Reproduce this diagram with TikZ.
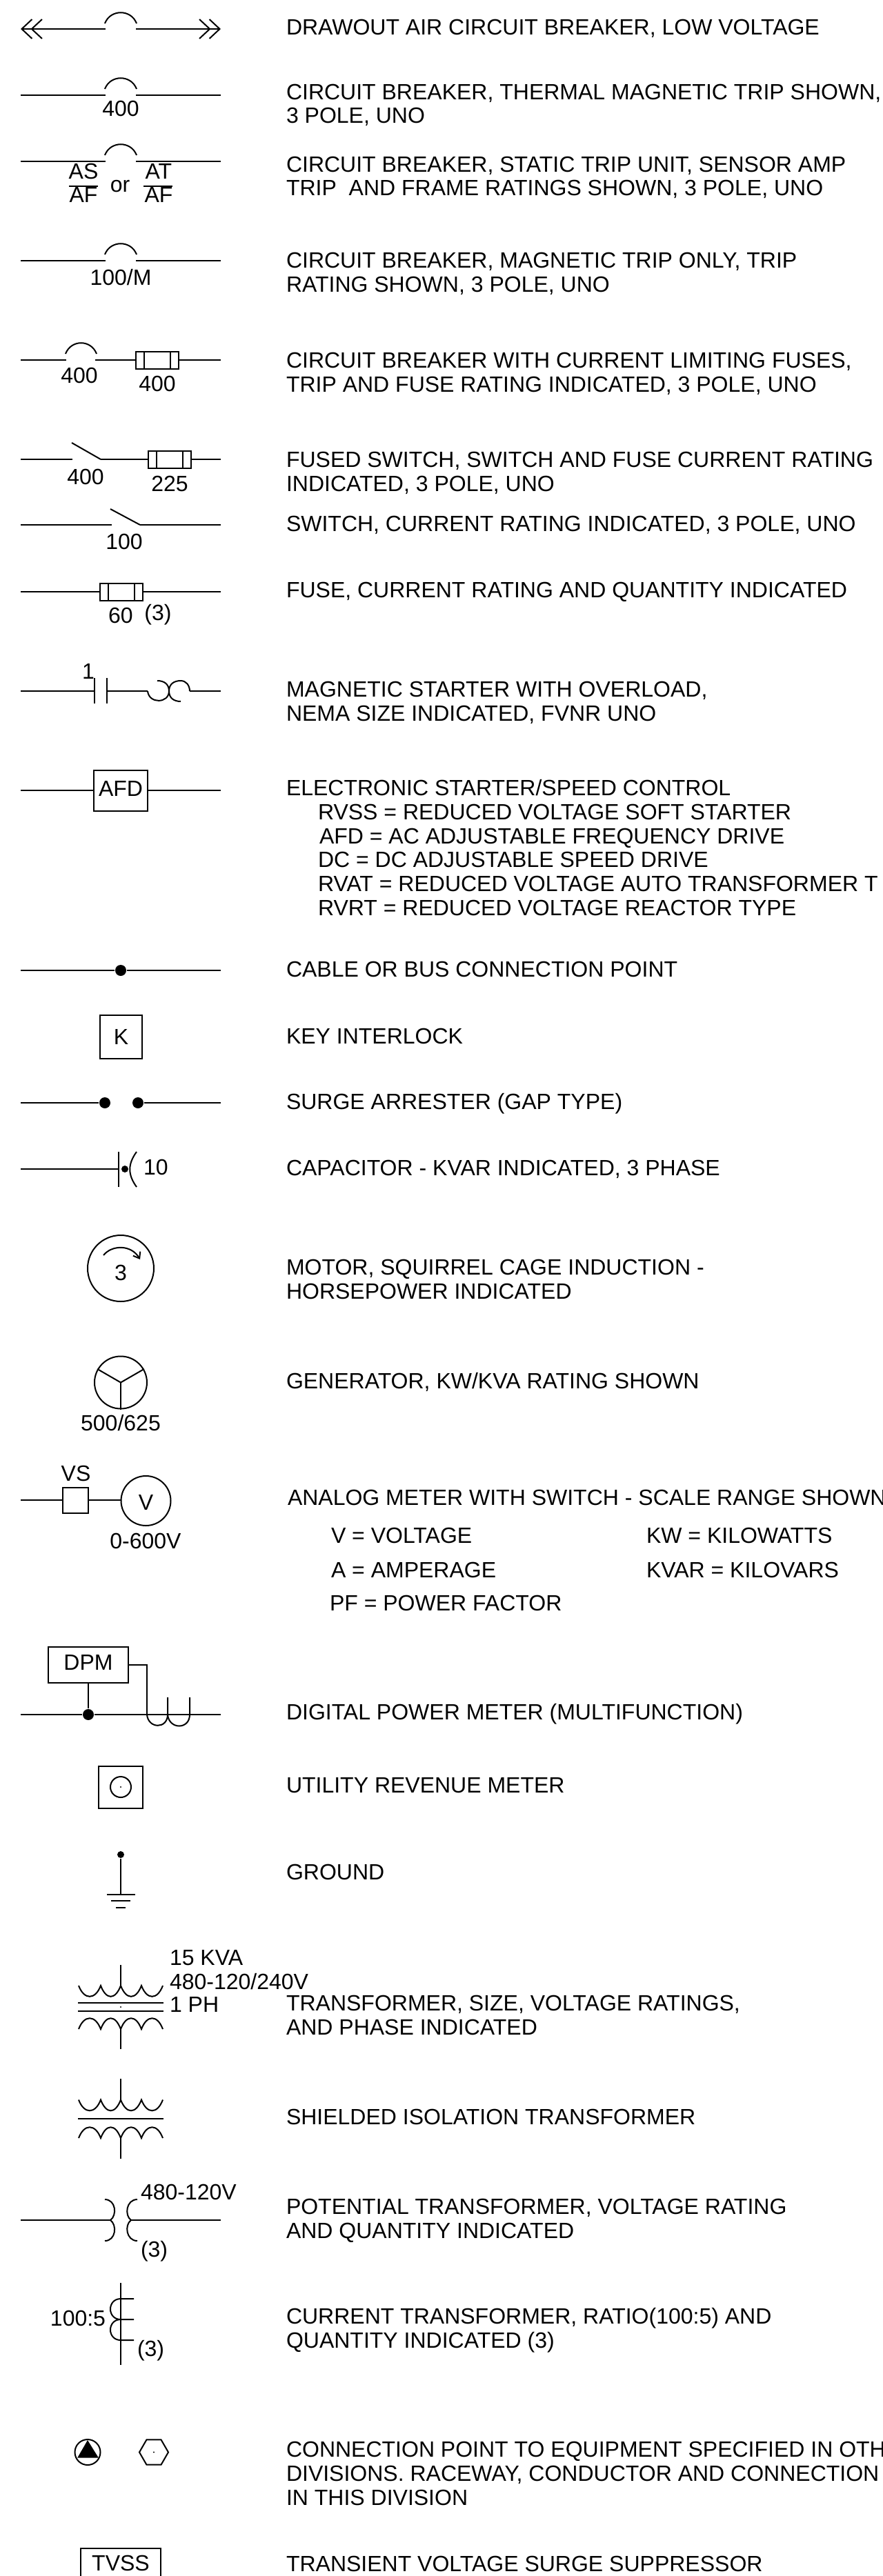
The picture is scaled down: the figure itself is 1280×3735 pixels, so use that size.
\documentclass[tikz,border=0pt]{standalone}
\usepackage{fontspec}
\setmainfont{Liberation Sans}
\usetikzlibrary{arrows.meta,shapes.geometric}
\tikzset{barbs/.tip={Straight Barb[length=11.25pt,width=21pt,sep=-2.25pt] Straight Barb[length=11.25pt,width=21pt]}}

\begin{document}
\begin{tikzpicture}[x=0.75pt,y=-0.75pt,line width=1.5pt,
   every node/.style={font=\fontsize{24pt}{26pt}\selectfont},
   lbl/.style={inner sep=0pt,anchor=base},
   desc/.style={inner sep=0pt,anchor=base west,align=left},
   boxed/.style={draw,rectangle,inner sep=0pt},
   ring/.style={draw,circle,inner sep=0pt},
   dot/.style={fill,circle,inner sep=0pt,minimum size=12pt},
   speck/.style={fill,circle,inner sep=0pt,minimum size=1.6pt},
   fuse/.style={boxed,minimum width=46.5pt,minimum height=18.75pt,path picture={
      \draw ([xshift=9pt]path picture bounding box.north west) -- ([xshift=9pt]path picture bounding box.south west);
      \draw ([xshift=-9pt]path picture bounding box.north east) -- ([xshift=-9pt]path picture bounding box.south east);}},
   arcup/.style={to path={.. controls +(8,-21) and +(-8,-21) .. (\tikztotarget)}},
   arcdn/.style={to path={.. controls +(8,21) and +(-8,21) .. (\tikztotarget)}}]
   \path[use as bounding box,clip] (0,0) rectangle (1280,3735);

   % Breakers
   \coordinate (w1_0) at (30,42);
   \coordinate (w1_1) at (153,42);
   \coordinate (w1_2) at (197,42);
   \coordinate (w1_3) at (320,42);
   \path[draw,{barbs}-] (w1_0) to (w1_1);
   \path[draw,-{barbs}] (w1_2) to (w1_3);
   \path[draw] (152,34) to[arcup] (198,34);

   \coordinate (w2_0) at (30,138);
   \coordinate (w2_1) at (153,138);
   \coordinate (w2_2) at (197,138);
   \coordinate (w2_3) at (320,138);
   \path[draw] (w2_0) to (w2_1);
   \path[draw] (w2_2) to (w2_3);
   \path[draw] (152,129) to[arcup] (198,129);
   \node[lbl] (n2) at (175,169) {400};

   \coordinate (w3_0) at (30,234);
   \coordinate (w3_1) at (153,234);
   \coordinate (w3_2) at (197,234);
   \coordinate (w3_3) at (320,234);
   \path[draw] (w3_0) to (w3_1);
   \path[draw] (w3_2) to (w3_3);
   \path[draw] (152,225) to[arcup] (198,225);
   \node[lbl] (as) at (121,260) {AS};
   \node[lbl] (af1) at (121,294) {AF};
   \node[lbl] (or) at (174,279) {or};
   \node[lbl] (at) at (230,260) {AT};
   \node[lbl] (af2) at (230,294) {AF};
   \coordinate (b3_0) at (100,270);
   \coordinate (b3_1) at (142,270);
   \coordinate (b3_2) at (208,270);
   \coordinate (b3_3) at (250,270);
   \path[draw] (b3_0) to (b3_1);
   \path[draw] (b3_2) to (b3_3);

   \coordinate (w4_0) at (30,378);
   \coordinate (w4_1) at (153,378);
   \coordinate (w4_2) at (197,378);
   \coordinate (w4_3) at (320,378);
   \path[draw] (w4_0) to (w4_1);
   \path[draw] (w4_2) to (w4_3);
   \path[draw] (152,369) to[arcup] (198,369);
   \node[lbl] (n4) at (175,414) {100/M};

   \coordinate (w5_0) at (30,522);
   \coordinate (w5_1) at (96,522);
   \coordinate (w5_2) at (138,522);
   \coordinate (w5_3) at (320,522);
   \node[fuse] (f5) at (228,522) {};
   \path[draw] (w5_0) to (w5_1);
   \path[draw] (w5_2) to (f5);
   \path[draw] (f5) to (w5_3);
   \path[draw] (95,513) to[arcup] (140,513);
   \node[lbl] (n5_0) at (115,555) {400};
   \node[lbl] (n5_1) at (228,567) {400};

   % Switches and fuses
   \coordinate (w6_0) at (30,666);
   \coordinate (w6_1) at (105,666);
   \coordinate (w6_2) at (146,666);
   \coordinate (w6_3) at (104,642);
   \coordinate (w6_4) at (320,666);
   \node[fuse] (f6) at (245.5,666) {};
   \path[draw] (w6_0) to (w6_1);
   \path[draw] (w6_3) to (w6_2);
   \path[draw] (w6_2) to (f6);
   \path[draw] (f6) to (w6_4);
   \node[lbl] (n6_0) at (124,702) {400};
   \node[lbl] (n6_1) at (246,712) {225};

   \coordinate (w7_0) at (30,761);
   \coordinate (w7_1) at (162,761);
   \coordinate (w7_2) at (203,761);
   \coordinate (w7_3) at (160,738);
   \coordinate (w7_4) at (320,761);
   \path[draw] (w7_0) to (w7_1);
   \path[draw] (w7_3) to (w7_2);
   \path[draw] (w7_2) to (w7_4);
   \node[lbl] (n7) at (180,796) {100};

   \coordinate (w8_0) at (30,858);
   \coordinate (w8_1) at (320,858);
   \node[fuse] (f8) at (175.5,858) {};
   \path[draw] (w8_0) to (f8);
   \path[draw] (f8) to (w8_1);
   \node[lbl] (n8_0) at (175,903) {60};
   \node[lbl] (n8_1) at (229,899) {(3)};

   % Starter
   \coordinate (w9_0) at (30,1002);
   \coordinate (w9_1) at (137,1002);
   \coordinate (w9_2) at (155,1002);
   \coordinate (w9_3) at (214,1002);
   \coordinate (w9_4) at (275,1002);
   \coordinate (w9_5) at (320,1002);
   \path[draw] (w9_0) to (w9_1);
   \path[draw] (w9_2) to (w9_3);
   \path[draw] (w9_4) to (w9_5);
   \path[draw] (137,983) to (137,1020);
   \path[draw] (155,983) to (155,1020);
   \path[draw] (w9_3) .. controls (216,1021) and (245,1020) .. (245,1002) .. controls (245,992) and (238,987) .. (228,987);
   \path[draw] (262,1017) .. controls (252,1017) and (245,1012) .. (245,1002) .. controls (245,992) and (252,987) .. (262,987) .. controls (270,987) and (275,994) .. (w9_4);
   \node[lbl] (n9) at (128,984) {1};

   \coordinate (w10_0) at (30,1146);
   \coordinate (w10_1) at (320,1146);
   \node[boxed,minimum width=58.5pt,minimum height=44.25pt,text height=17.2pt,text depth=4.4pt] (afd) at (175,1146) {AFD};
   \path[draw] (w10_0) to (afd);
   \path[draw] (afd) to (w10_1);

   % Connection point, key, arrester, capacitor
   \coordinate (w11_0) at (30,1407);
   \coordinate (w11_1) at (320,1407);
   \node[dot] (d11) at (175,1407) {};
   \path[draw] (w11_0) to (d11);
   \path[draw] (d11) to (w11_1);

   \node[boxed,minimum width=45.75pt,minimum height=47.25pt] (key) at (175.5,1503.5) {K};

   \coordinate (w13_0) at (30,1599);
   \coordinate (w13_1) at (320,1599);
   \node[dot] (d13_0) at (152,1599) {};
   \node[dot] (d13_1) at (200,1599) {};
   \path[draw] (w13_0) to (d13_0);
   \path[draw] (d13_1) to (w13_1);

   \coordinate (w14_0) at (30,1695);
   \coordinate (w14_1) at (172,1695);
   \path[draw] (w14_0) to (w14_1);
   \path[draw] (172,1670) to (172,1721);
   \node[fill,circle,inner sep=0pt,minimum size=7.5pt] (d14) at (181,1695) {};
   \path[draw] (198,1670) .. controls (185,1688) and (185,1703) .. (198,1721);
   \node[lbl] (n14) at (226,1703) {10};

   % Motor, generator, meter
   \node[ring,minimum size=72pt,text height=25.5pt,text depth=0pt] (mot) at (175,1839) {3};
   \path[draw,-{Straight Barb[length=6pt,width=9pt]}] (150,1820) .. controls (162,1805) and (190,1804) .. (203,1826);

   \node[ring,minimum size=57pt] (gen) at (175,2004.5) {};
   \path[draw] (gen.center) to (gen.150);
   \path[draw] (gen.center) to (gen.30);
   \path[draw] (gen.center) to (gen.270);
   \node[lbl] (n16) at (175,2074) {500/625};

   \coordinate (w17_0) at (30,2174.5);
   \node[boxed,minimum width=27.75pt,minimum height=27.5pt] (vs) at (109.5,2175.5) {};
   \node[ring,minimum size=54pt,text height=19.5pt,text depth=0pt] (vm) at (211.5,2176) {V};
   \path[draw] (w17_0) to (w17_0 -| vs.west);
   \path[draw] (w17_0 -| vs.east) to (w17_0 -| vm.west);
   \node[lbl] (n17_0) at (110,2147) {VS};
   \node[lbl] (n17_1) at (211,2245.5) {0-600V};

   % Digital meter
   \coordinate (w18_0) at (30,2486);
   \coordinate (w18_1) at (213,2486);
   \coordinate (w18_2) at (275,2486);
   \coordinate (w18_3) at (320,2486);
   \node[boxed,minimum width=87pt,minimum height=39pt,text height=17.2pt,text depth=6.7pt] (dpm) at (128,2414) {DPM};
   \node[dot,minimum size=12pt] (d18) at (128,2486) {};
   \path[draw] (w18_0) to (d18);
   \path[draw] (d18) to (w18_1);
   \path[draw] (w18_1) to (w18_2);
   \path[draw] (w18_2) to (w18_3);
   \path[draw] (dpm) to (d18);
   \path[draw] (dpm.east) -- (213,2414) -- (w18_1);
   \path[draw] (w18_1) .. controls (215,2507) and (243,2507) .. (243,2486) -- (243,2461);
   \path[draw] (243,2486) .. controls (245,2508) and (275,2508) .. (w18_2) -- (275,2461);

   % Revenue meter, ground
   \node[boxed,minimum width=48pt,minimum height=45.75pt] (rev) at (175,2591.5) {};
   \node[ring,minimum size=22.5pt] (rev_r) at (175,2591) {};
   \node[speck] (rev_d) at (175,2591) {};

   \node[fill,circle,inner sep=0pt,minimum size=7.5pt] (gnd) at (175,2689) {};
   \coordinate (gnd_0) at (175,2747);
   \path[draw] (gnd) to (gnd_0);
   \path[draw] (155,2747) to (196,2747);
   \path[draw] (161,2756) to (189,2756);
   \path[draw] (168,2766) to (182,2766);

   % Transformers
   \coordinate (tx1_0) at (175,2849);
   \coordinate (tx1_1) at (175,2880);
   \coordinate (tx1_2) at (175,2942);
   \coordinate (tx1_3) at (175,2971);
   \path[draw] (tx1_0) to (tx1_1);
   \path[draw] (tx1_2) to (tx1_3);
   \path[draw] (114,2879) to[arcdn] (146,2879) to[arcdn] (175,2879) to[arcdn] (205,2879) to[arcdn] (236,2879);
   \path[draw] (113,2904) to (237,2904);
   \path[draw] (113,2916) to (237,2916);
   \node[speck] (tx1_d) at (175,2910) {};
   \path[draw] (114,2942) to[arcup] (146,2942) to[arcup] (175,2942) to[arcup] (205,2942) to[arcup] (236,2942);
   \node[lbl,anchor=base west] (n20_0) at (245,2849) {15 KVA};
   \node[lbl,anchor=base west] (n20_1) at (245,2884) {480-120/240V};
   \node[lbl,anchor=base west] (n20_2) at (245,2917) {1 PH};

   \coordinate (tx2_0) at (175,3014);
   \coordinate (tx2_1) at (175,3046);
   \coordinate (tx2_2) at (175,3100);
   \coordinate (tx2_3) at (175,3130);
   \path[draw] (tx2_0) to (tx2_1);
   \path[draw] (tx2_2) to (tx2_3);
   \path[draw] (114,3044.5) to[arcdn] (146,3044.5) to[arcdn] (175,3044.5) to[arcdn] (205,3044.5) to[arcdn] (236,3044.5);
   \path[draw] (113,3072) to (237,3072);
   \path[draw] (114,3100) to[arcup] (146,3100) to[arcup] (175,3100) to[arcup] (205,3100) to[arcup] (236,3100);

   \coordinate (w22_0) at (30,3219);
   \coordinate (w22_1) at (160,3219);
   \coordinate (w22_2) at (190,3219);
   \coordinate (w22_3) at (320,3219);
   \path[draw] (w22_0) to (w22_1);
   \path[draw] (w22_2) to (w22_3);
   \path[draw] (152,3189) .. controls (168,3189) and (170,3212) .. (w22_1) .. controls (170,3226) and (168,3249) .. (152,3249);
   \path[draw] (199,3189) .. controls (183,3189) and (180,3212) .. (w22_2) .. controls (180,3226) and (183,3249) .. (199,3249);
   \node[lbl,anchor=base west] (n22_0) at (203,3189) {480-120V};
   \node[lbl,anchor=base west] (n22_1) at (203,3272) {(3)};

   \coordinate (ct_0) at (175,3310);
   \coordinate (ct_1) at (175,3429);
   \path[draw] (ct_0) to (ct_1);
   \path[draw] (194,3333) -- (175,3333) .. controls (155,3333) and (155,3363) .. (175,3363) -- (194,3363);
   \path[draw] (175,3363) .. controls (155,3363) and (155,3393) .. (175,3393) -- (194,3393);
   \node[lbl] (n23_0) at (113,3372) {100:5};
   \node[lbl,anchor=base west] (n23_1) at (198,3416) {(3)};

   % Connection points, suppressor
   \node[ring,minimum size=27.75pt] (cp1) at (127,3555.5) {};
   \path[draw,fill] (127,3540) -- (141,3562.5) -- (114,3562.5) -- cycle;
   \node[draw,regular polygon,regular polygon sides=6,inner sep=0pt,minimum size=31.5pt] (cp2) at (223,3555.5) {};
   \node[speck] (cp2_d) at (223,3555.5) {};

   \node[boxed,minimum width=87pt,minimum height=31.5pt] (tvss) at (175,3716) {TVSS};

   % Descriptions
   \node[desc] (t1) at (414,50.5) {DRAWOUT AIR CIRCUIT BREAKER, LOW VOLTAGE};
   \node[desc] (t2) at (414,179) {CIRCUIT BREAKER, THERMAL MAGNETIC TRIP SHOWN,\\3 POLE, UNO};
   \node[desc] (t3) at (414,284) {CIRCUIT BREAKER, STATIC TRIP UNIT, SENSOR AMP\\TRIP\ \ AND FRAME RATINGS SHOWN, 3 POLE, UNO};
   \node[desc] (t4) at (414,423.5) {CIRCUIT BREAKER, MAGNETIC TRIP ONLY, TRIP\\RATING SHOWN, 3 POLE, UNO};
   \node[desc] (t5) at (414,568) {CIRCUIT BREAKER WITH CURRENT LIMITING FUSES,\\TRIP AND FUSE RATING INDICATED, 3 POLE, UNO};
   \node[desc] (t6) at (414,712) {FUSED SWITCH, SWITCH AND FUSE CURRENT RATING\\INDICATED, 3 POLE, UNO};
   \node[desc] (t7) at (414,770) {SWITCH, CURRENT RATING INDICATED, 3 POLE, UNO};
   \node[desc] (t8) at (414,866) {FUSE, CURRENT RATING AND QUANTITY INDICATED};
   \node[desc] (t9) at (414,1045) {MAGNETIC STARTER WITH OVERLOAD,\\NEMA SIZE INDICATED, FVNR UNO};
   \node[desc] (t10) at (414,1153) {ELECTRONIC STARTER/SPEED CONTROL};
   \node[desc] (t10_0) at (460,1327) {RVSS = REDUCED VOLTAGE SOFT STARTER\\\hspace*{1.5pt}AFD = AC ADJUSTABLE FREQUENCY DRIVE\\DC = DC ADJUSTABLE SPEED DRIVE\\RVAT = REDUCED VOLTAGE AUTO TRANSFORMER T\\RVRT = REDUCED VOLTAGE REACTOR TYPE};
   \node[desc] (t11) at (414,1416) {CABLE OR BUS CONNECTION POINT};
   \node[desc] (t12) at (414,1513) {KEY INTERLOCK};
   \node[desc] (t13) at (414,1608) {SURGE ARRESTER (GAP TYPE)};
   \node[desc] (t14) at (414,1704) {CAPACITOR - KVAR INDICATED, 3 PHASE};
   \node[desc] (t15) at (414,1883) {MOTOR, SQUIRREL CAGE INDUCTION -\\HORSEPOWER INDICATED};
   \node[desc] (t16) at (414,2013) {GENERATOR, KW/KVA RATING SHOWN};
   \node[desc] (t17) at (416,2182) {ANALOG METER WITH SWITCH - SCALE RANGE SHOWN};
   \node[desc] (t17_0) at (479,2237) {V = VOLTAGE};
   \node[desc] (t17_1) at (479,2287) {A = AMPERAGE};
   \node[desc] (t17_2) at (477,2335) {PF = POWER FACTOR};
   \node[desc] (t17_3) at (936,2237) {KW = KILOWATTS};
   \node[desc] (t17_4) at (936,2287) {KVAR = KILOVARS};
   \node[desc] (t18) at (414,2493.5) {DIGITAL POWER METER (MULTIFUNCTION)};
   \node[desc] (t19) at (414,2599) {UTILITY REVENUE METER};
   \node[desc] (t20) at (414,2725.5) {GROUND};
   \node[desc] (t21) at (414,2950) {TRANSFORMER, SIZE, VOLTAGE RATINGS,\\AND PHASE INDICATED};
   \node[desc] (t22) at (414,3080) {SHIELDED ISOLATION TRANSFORMER};
   \node[desc] (t23) at (414,3245) {POTENTIAL TRANSFORMER, VOLTAGE RATING\\AND QUANTITY INDICATED};
   \node[desc] (t24) at (414,3404) {CURRENT TRANSFORMER, RATIO(100:5) AND\\QUANTITY INDICATED (3)};
   \node[desc] (t25) at (414,3632) {CONNECTION POINT TO EQUIPMENT SPECIFIED IN OTH\\DIVISIONS. RACEWAY, CONDUCTOR AND CONNECTION\\IN THIS DIVISION};
   \node[desc] (t26) at (414,3728) {TRANSIENT VOLTAGE SURGE SUPPRESSOR};

\end{tikzpicture}
\end{document}
